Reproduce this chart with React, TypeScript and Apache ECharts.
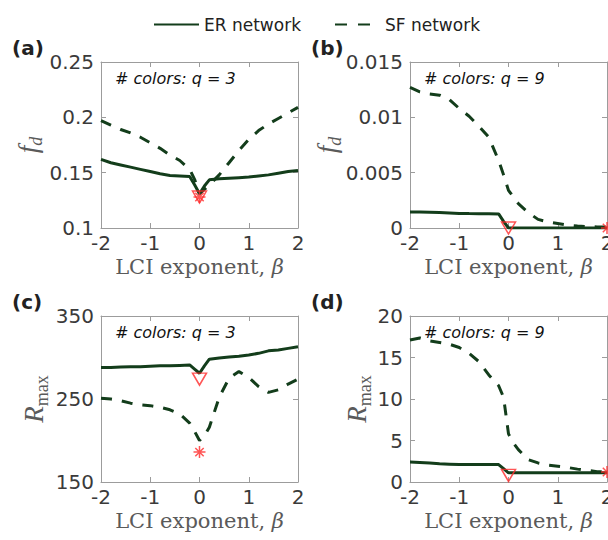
import React, { useEffect, useRef } from "react";
import * as echarts from "echarts";

// β grid shared by all curves
const beta = [-2, -1.8, -1.6, -1.4, -1.2, -1, -0.8, -0.6, -0.4, -0.2, -0.1, 0, 0.1, 0.2, 0.4, 0.6, 0.8, 1, 1.2, 1.4, 1.6, 1.8, 2];

// (a) f_d, q = 3
const erA = [0.162, 0.159, 0.157, 0.155, 0.153, 0.151, 0.149, 0.1475, 0.147, 0.1465, 0.139, 0.131, 0.138, 0.1435, 0.1445, 0.145, 0.1455, 0.146, 0.147, 0.148, 0.1495, 0.151, 0.152];
const sfA = [0.197, 0.193, 0.189, 0.186, 0.182, 0.177, 0.172, 0.166, 0.161, 0.153, 0.144, 0.131, 0.135, 0.139, 0.148, 0.159, 0.17, 0.18, 0.188, 0.194, 0.199, 0.204, 0.209];
// (b) f_d, q = 9
const erB = [0.00145, 0.00144, 0.00142, 0.0014, 0.00136, 0.00132, 0.0013, 0.00129, 0.00128, 0.00127, 0.0006, 0, 0, 0, 0, 0, 0, 0, 0, 0, 0, 0, 0];
const sfB = [0.0127, 0.0123, 0.0121, 0.012, 0.0116, 0.0108, 0.0101, 0.0092, 0.0082, 0.0061, 0.0048, 0.0034, 0.0028, 0.0022, 0.0014, 0.00078, 0.00055, 0.0004, 0.00025, 0.00018, 0.00012, 0.0001, 0.0001];
// (c) R_max, q = 3
const erC = [288, 288, 288.5, 289, 289, 289.5, 290, 290, 290.5, 291, 286, 281, 290, 298, 299.5, 300.5, 301.5, 303, 305, 308, 309, 311, 313];
const sfC = [251, 250, 248, 245, 243, 242, 240, 237, 232, 221, 211, 200, 206, 216, 252, 275, 283, 276, 265, 258, 261, 268, 274];
// (d) R_max, q = 9
const erD = [2.4, 2.35, 2.3, 2.2, 2.15, 2.1, 2.1, 2.1, 2.1, 2.1, 1.6, 1.1, 1.1, 1.1, 1.1, 1.1, 1.1, 1.1, 1.1, 1.1, 1.1, 1.1, 1.1];
const sfD = [17.1, 17.35, 17.0, 16.8, 16.6, 16.2, 15.5, 14.5, 12.9, 11.6, 10.2, 5.8, 4.7, 3.9, 2.7, 2.3, 2.05, 1.9, 1.75, 1.55, 1.4, 1.25, 1.2];

// red reference markers [beta, value] per panel
const triangleMarks = [[0, 0.128], [0, 0], [0, 274], [0, 0.8]];
const asteriskMarks = [[0, 0.128], [2, 0], [0, 186], [2, 1.2]];

// axes
const xTicks = { min: -2, max: 2, interval: 1 };
const yRanges = [
  { min: 0.1, max: 0.25, interval: 0.05 },
  { min: 0, max: 0.015, interval: 0.005 },
  { min: 150, max: 350, interval: 100 },
  { min: 0, max: 20, interval: 5 },
];
const qLabels = ["3", "9", "3", "9"];
const panelLetters = ["(a)", "(b)", "(c)", "(d)"];
const seriesNames = ["ER network", "SF network"];

const ER = [erA, erB, erC, erD];
const SF = [sfA, sfB, sfC, sfD];

const LINE = "#133d1b";
const RED = "#ff2b2b";
const AXIS = "#9c9c9c";
const TICKTXT = "#3a3a3a";
const NAMETXT = "#5a5a5a";

const grids = [
  { left: 101, top: 62, width: 197, height: 166 },
  { left: 410, top: 62, width: 197, height: 166 },
  { left: 101, top: 316, width: 197, height: 166 },
  { left: 410, top: 316, width: 197, height: 166 },
];

const TRI = "path://M0,0L14,0L7,12Z";
const AST = "path://M6,0L6,12M0,6L12,6M1.8,1.8L10.2,10.2M10.2,1.8L1.8,10.2";

function buildOption() {
  const xAxis: any[] = [];
  const yAxis: any[] = [];
  const series: any[] = [];
  const graphic: any[] = [];

  grids.forEach((g, i) => {
    const line = { show: true, onZero: false, lineStyle: { color: AXIS, width: 1 } };
    const tick = { show: true, inside: true, length: 5, lineStyle: { color: AXIS } };
    xAxis.push({
      type: "value", gridIndex: i, position: "bottom", ...xTicks,
      axisLine: line, axisTick: tick, splitLine: { show: false },
      axisLabel: { margin: 5, color: TICKTXT, fontFamily: "DejaVu Sans", fontSize: 20 },
      name: "LCI exponent, {b|β}", nameLocation: "middle", nameGap: 28,
      nameTextStyle: {
        fontFamily: "DejaVu Serif", fontSize: 21, color: NAMETXT,
        rich: { b: { fontFamily: "DejaVu Serif", fontStyle: "italic", fontSize: 21, color: NAMETXT } },
      },
    });
    xAxis.push({
      type: "value", gridIndex: i, position: "top", ...xTicks,
      axisLine: line, axisTick: tick, splitLine: { show: false }, axisLabel: { show: false },
    });
    yAxis.push({
      type: "value", gridIndex: i, position: "left", ...yRanges[i],
      axisLine: line, axisTick: tick, splitLine: { show: false },
      axisLabel: { margin: 7, color: TICKTXT, fontFamily: "DejaVu Sans", fontSize: 20 },
    });
    yAxis.push({
      type: "value", gridIndex: i, position: "right", ...yRanges[i],
      axisLine: line, axisTick: tick, splitLine: { show: false }, axisLabel: { show: false },
    });

    series.push({
      type: "line", name: seriesNames[0], xAxisIndex: 2 * i, yAxisIndex: 2 * i,
      data: beta.map((b, k) => [b, ER[i][k]]), symbol: "none", showSymbol: false,
      lineStyle: { color: LINE, width: 3 }, itemStyle: { color: LINE }, z: 2,
    });
    series.push({
      type: "line", name: seriesNames[1], xAxisIndex: 2 * i, yAxisIndex: 2 * i,
      data: beta.map((b, k) => [b, SF[i][k]]), symbol: "none", showSymbol: false,
      lineStyle: { color: LINE, width: 3, type: [11, 10] }, itemStyle: { color: LINE }, z: 2,
    });
    series.push({
      type: "scatter", xAxisIndex: 2 * i, yAxisIndex: 2 * i, clip: false,
      data: [triangleMarks[i]], symbol: TRI, symbolSize: [14, 12],
      itemStyle: { color: "rgba(0,0,0,0)", borderColor: RED, borderWidth: 1.5 }, z: 4,
    });
    series.push({
      type: "scatter", xAxisIndex: 2 * i, yAxisIndex: 2 * i, clip: false,
      data: [asteriskMarks[i]], symbol: AST, symbolSize: 12,
      itemStyle: { color: "rgba(0,0,0,0)", borderColor: RED, borderWidth: 1.5 }, z: 4,
    });

    graphic.push({
      type: "text", x: g.left + 14, y: g.top + 16, z: 10,
      style: {
        text: "# colors: q = " + qLabels[i], fontFamily: "DejaVu Sans", fontStyle: "italic",
        fontSize: 16, fill: "#111", align: "left", verticalAlign: "middle",
      },
    });
    graphic.push({
      type: "text", x: g.left - 89 - (i % 2 === 1 ? 10 : 0), y: g.top - 14, z: 10,
      style: {
        text: panelLetters[i], fontFamily: "DejaVu Sans", fontWeight: "bold",
        fontSize: 20, fill: "#222", align: "left", verticalAlign: "middle",
      },
    });
  });

  const fd = (x: number, y: number) => ({
    type: "text", x, y, rotation: Math.PI / 2, z: 10,
    style: {
      text: "{f|f}{d|d}", align: "center", verticalAlign: "middle",
      rich: {
        f: { fontFamily: "Liberation Serif", fontStyle: "italic", fontSize: 27, lineHeight: 34, verticalAlign: "middle", fill: NAMETXT },
        d: { fontFamily: "Liberation Serif", fontStyle: "italic", fontSize: 18, lineHeight: 18, verticalAlign: "bottom", fill: NAMETXT },
      },
    },
  });
  const rmax = (x: number, y: number) => ({
    type: "text", x, y, rotation: Math.PI / 2, z: 10,
    style: {
      text: "{r|R}{m|max}", align: "center", verticalAlign: "middle",
      rich: {
        r: { fontFamily: "Liberation Serif", fontStyle: "italic", fontSize: 27, lineHeight: 34, verticalAlign: "middle", fill: NAMETXT },
        m: { fontFamily: "Liberation Serif", fontSize: 18, lineHeight: 18, verticalAlign: "bottom", fill: NAMETXT },
      },
    },
  });
  graphic.push(fd(28, 145), fd(327, 145), rmax(34, 399), rmax(357, 399));

  return {
    animation: false,
    backgroundColor: "#ffffff",
    grid: grids.map((g) => ({ ...g, containLabel: false, outerBoundsMode: "none" })),
    legend: {
      left: 148, top: 11, itemWidth: 45, itemHeight: 14, itemGap: 33,
      itemStyle: { opacity: 0 },
      textStyle: { fontFamily: "DejaVu Sans", fontSize: 17, color: "#222" },
      data: [
        { name: seriesNames[0] },
        { name: seriesNames[1], lineStyle: { type: [12, 11] } },
      ],
    },
    xAxis, yAxis, series, graphic,
  };
}

export default function App() {
  const ref = useRef<HTMLDivElement>(null);
  useEffect(() => {
    const chart = echarts.init(ref.current!, null, { renderer: "svg" });
    chart.setOption(buildOption() as any);
    return () => chart.dispose();
  }, []);
  return (
    <div
      ref={ref}
      style={{ position: "absolute", left: 0, top: 0, width: 608, height: 540 }}
    />
  );
}
